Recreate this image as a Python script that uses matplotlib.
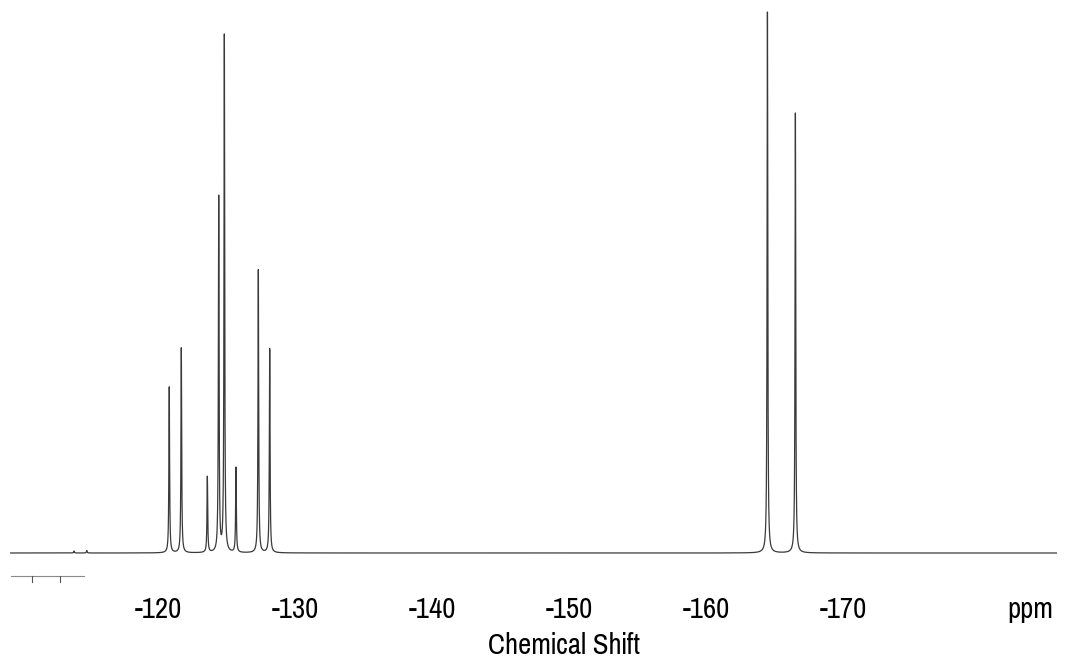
import numpy as np
import matplotlib
matplotlib.use("Agg")
import matplotlib.pyplot as plt
from matplotlib import font_manager

# 19F NMR peak list: position (ppm) and relative height
peak_ppm = [-113.87, -114.80, -120.82, -121.70, -123.60, -124.43,
            -124.84, -125.69, -127.32, -128.15, -164.47, -166.51]
peak_height = [2.0, 2.5, 166, 205, 76, 355, 517, 85, 283, 204, 541, 440]
peak_hwhm = 0.03  # ppm

tick_values = [-120, -130, -140, -150, -160, -170, -183.65]
tick_labels = ["-120", "-130", "-140", "-150", "-160", "-170", "ppm"]

# small scale marker drawn under the baseline on the left
scale_x = [-109.27, -114.6]
scale_ticks = [-110.8, -112.85]
scale_y = -23

installed = {f.name for f in font_manager.fontManager.ttflist}
family = next(f for f in ["Liberation Sans Narrow", "Arial Narrow", "Pragati Narrow",
                          "Roboto Condensed", "Archivo Narrow", "PT Sans Narrow",
                          "Liberation Sans"] if f in installed)

W, H = 1076, 662
fig = plt.figure(figsize=(W / 100, H / 100), dpi=100)
ax = fig.add_axes([10 / W, (H - 590) / H, (1057 - 10) / W, 580 / H])

x = np.linspace(-109.2, -185.6, 30000)
y = np.zeros_like(x)
for p, h in zip(peak_ppm, peak_height):
    y += h / (1.0 + ((x - p) / peak_hwhm) ** 2)

ax.plot(x, y, color="#3a3a3a", lw=0.9)

ax.plot(scale_x, [scale_y, scale_y], color="#8a8a8a", lw=0.8)
for t in scale_ticks:
    ax.plot([t, t], [scale_y, scale_y - 6], color="#555555", lw=0.8)

ax.set_xlim(-109.2, -185.6)
ax.set_ylim(-37, 543)
for s in ax.spines.values():
    s.set_visible(False)
ax.set_yticks([])
ax.set_xticks(tick_values)
ax.set_xticklabels(tick_labels, family=family, fontsize=22.5)
ax.tick_params(axis="x", length=0, pad=4)
ax.set_xlabel("Chemical Shift", family=family, fontsize=22.5)
ax.xaxis.set_label_coords(0.529, -0.072)

fig.savefig("out.png", dpi=100, facecolor="white")
